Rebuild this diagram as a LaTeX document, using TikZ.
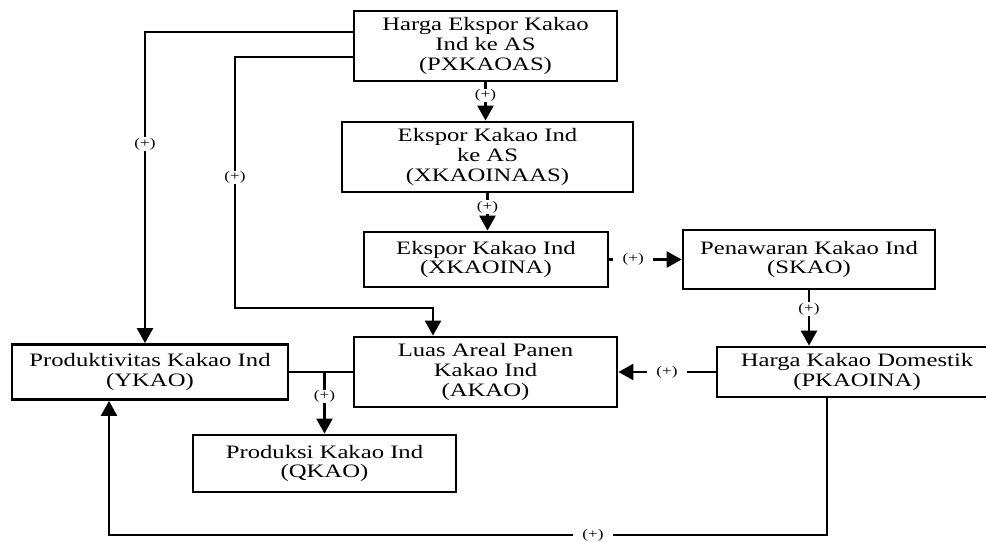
\documentclass[tikz,border=0pt]{standalone}
\usepackage{fontspec}
\setmainfont{Liberation Serif}[FakeStretch=1.3]
\usetikzlibrary{arrows.meta,calc}

\begin{document}
\begin{tikzpicture}[
    box/.style={draw,line width=1.6pt,align=center,inner sep=0pt,
      font=\fontsize{10.8}{11.2}\selectfont},
    link/.style={line width=1.4pt,-{Triangle[length=0.3cm,width=0.32cm]}},
    sgn/.style={fill=white,inner xsep=1pt,inner ysep=0.5pt,
      font=\fontsize{7.5}{8}\selectfont},
    hsgn/.style={sgn,inner xsep=0.19cm}]
    \useasboundingbox (0,0) rectangle (19.72,10.82);
    \clip (0,0) rectangle (19.72,10.82);
    \newcommand\varbox[6]{
      \node[box,minimum width=#3cm,minimum height=#4cm] at (#1,#2) (#5) {#6};
    }
    \varbox{9.71}{9.90}{5.26}{1.40}{PX}{Harga Ekspor Kakao\\Ind ke AS\\(PXKAOAS)};
    \varbox{9.75}{7.68}{5.82}{1.40}{XAS}{Ekspor Kakao Ind\\ke AS\\(XKAOINAAS)};
    \varbox{9.72}{5.63}{4.88}{1.10}{XIN}{Ekspor Kakao Ind\\(XKAOINA)};
    \varbox{16.18}{5.63}{5.04}{1.18}{SK}{Penawaran Kakao Ind\\(SKAO)};
    \varbox{17.14}{3.38}{5.60}{1.00}{PK}{Harga Kakao Domestik\\(PKAOINA)};
    \varbox{9.71}{3.38}{5.26}{1.40}{AK}{Luas Areal Panen\\Kakao Ind\\(AKAO)};
    \varbox{3.00}{3.38}{5.52}{1.10}{YK}{Produktivitas Kakao Ind\\(YKAO)};
    \varbox{6.49}{1.55}{5.26}{1.14}{QK}{Produksi Kakao Ind\\(QKAO)};
    \coordinate (turnAK) at (4.70,4.66);
    \coordinate (loopB) at (2.18,0.12);
    % export price feeds both productivity and area
    \draw[link] ($(PX.west)+(0,0.28)$) -| node[sgn,pos=0.68] {(+)} ($(YK.north)+(-0.1,0)$);
    \draw[link] ($(PX.west)+(0,-0.22)$) -| node[sgn,pos=0.74] {(+)} (turnAK)
      -| ($(AK.north)+(-1.05,0)$);
    \draw[link] (PX.south) -- node[sgn,pos=0.34] {(+)} (PX.south |- XAS.north);
    \draw[link] (XAS.south) -- node[sgn,pos=0.37] {(+)} (XAS.south |- XIN.north);
    \draw[link] (XIN.east) -- node[hsgn,pos=0.33] {(+)} (SK.west);
    \draw[link] (SK.south) -- node[sgn,pos=0.34] {(+)} (SK.south |- PK.north);
    \draw[link] (PK.west) -- node[hsgn] {(+)} (AK.east);
    \draw[line width=1.4pt] (AK.west) -- (YK.east);
    \draw[link] (AK.west -| QK.north) -- node[sgn,pos=0.4] {(+)} (QK.north);
    \draw[link] ($(PK.south)+(-0.6,0)$) |- node[hsgn,pos=0.663] {(+)} (loopB)
      -- (loopB |- YK.south);
  \end{tikzpicture}
\end{document}
